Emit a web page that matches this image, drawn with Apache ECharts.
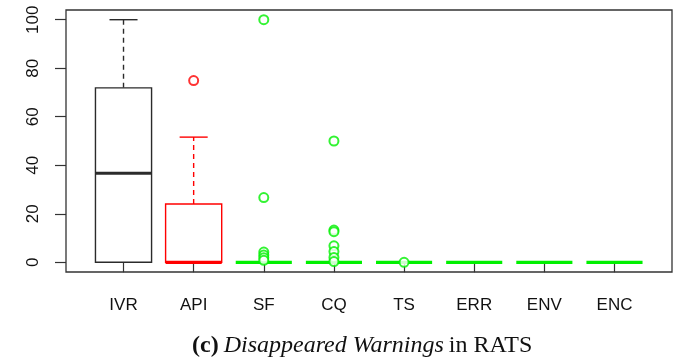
<!DOCTYPE html>
<html>
<head>
<meta charset="utf-8">
<script src="https://cdn.jsdelivr.net/npm/echarts@6/dist/echarts.min.js"></script>
<style>html,body{margin:0;padding:0;background:#fff}#c{width:675px;height:360px}</style>
</head>
<body>
<div id="c"></div>
<script>
// ---- data ----
const categories = ['IVR', 'API', 'SF', 'CQ', 'TS', 'ERR', 'ENV', 'ENC'];
const whiskerLow = [0, 0, 0, 0, 0, 0, 0, 0];
const q1 = [0, 0, 0, 0, 0, 0, 0, 0];
const median = [36.7, 0, 0, 0, 0, 0, 0, 0];
const q3 = [71.9, 24, 0, 0, 0, 0, 0, 0];
const whiskerHigh = [100, 51.6, 0, 0, 0, 0, 0, 0];
const outliersIVR = [];
const outliersAPI = [74.9];
const outliersSF = [100, 26.7, 4.2, 3.0, 1.9, 0.8];
const outliersCQ = [50, 13.3, 12.6, 6.8, 4.4, 2.0, 0.3];
const outliersTS = [0];
const outliersERR = [];
const outliersENV = [];
const outliersENC = [];
const yTicks = [0, 20, 40, 60, 80, 100];

// ---- style ----
const palette = ['#2b2b2b', '#ff0000', '#00f000', '#00f000', '#00f000', '#00f000', '#00f000', '#00f000'];

const outlierLists = [outliersIVR, outliersAPI, outliersSF, outliersCQ, outliersTS, outliersERR, outliersENV, outliersENC];
const boxData = categories.map((c, i) => [i + 1, whiskerLow[i], q1[i], median[i], q3[i], whiskerHigh[i]]);
const outlierData = [];
outlierLists.forEach((list, i) => list.forEach(v => outlierData.push([i + 1, v])));

function renderBox(params, api) {
  const x = api.value(0), lo = api.value(1), a = api.value(2), m = api.value(3), b = api.value(4), hi = api.value(5);
  const col = palette[x - 1];
  const hw = 0.4, cw = 0.2;
  const ch = [];
  const line = (p1, p2, w, dash) => ({
    type: 'line',
    shape: { x1: p1[0], y1: p1[1], x2: p2[0], y2: p2[1] },
    style: { stroke: col, lineWidth: w, lineDash: dash || null }
  });
  if (hi > b) {
    ch.push(line(api.coord([x, b]), api.coord([x, hi]), 1.4, [5, 4]));
    ch.push(line(api.coord([x - cw, hi]), api.coord([x + cw, hi]), 1.4));
  }
  if (lo < a) {
    ch.push(line(api.coord([x, a]), api.coord([x, lo]), 1.4, [5, 4]));
    ch.push(line(api.coord([x - cw, lo]), api.coord([x + cw, lo]), 1.4));
  }
  if (b > a) {
    const tl = api.coord([x - hw, b]), br = api.coord([x + hw, a]);
    ch.push({ type: 'rect', shape: { x: tl[0], y: tl[1], width: br[0] - tl[0], height: br[1] - tl[1] },
      style: { fill: '#fff', stroke: col, lineWidth: 1.4 } });
  }
  ch.push(line(api.coord([x - hw, m]), api.coord([x + hw, m]), 3.2));
  return { type: 'group', children: ch };
}

const chart = echarts.init(document.getElementById('c'), null, { renderer: 'canvas' });
chart.setOption({
  animation: false,
  backgroundColor: '#fff',
  title: {
    left: 187, top: 329,
    text: '{b|(c)} {i|Disappeared Warnings} {n|in RATS}',
    textStyle: {
      fontWeight: 'normal',
      rich: {
        b: { fontFamily: 'Liberation Serif', fontSize: 24, fontWeight: 'bold', color: '#111' },
        i: { fontFamily: 'Liberation Serif', fontSize: 24, fontStyle: 'italic', fontWeight: 'normal', color: '#111' },
        n: { fontFamily: 'Liberation Serif', fontSize: 24, fontWeight: 'normal', color: '#111' }
      }
    }
  },
  grid: { left: 66, right: 3, top: 10, bottom: 88, show: true, borderColor: '#333', borderWidth: 1.3, backgroundColor: 'transparent' },
  xAxis: {
    type: 'value', min: 0.18, max: 8.82,
    axisLine: { show: false },
    splitLine: { show: false },
    axisTick: { show: true, customValues: categories.map((c, i) => i + 1), length: 10, lineStyle: { color: '#333', width: 1.2 } },
    axisLabel: { customValues: categories.map((c, i) => i + 1), formatter: v => categories[Math.round(v) - 1] || '',
      margin: 25, fontFamily: 'Liberation Sans', fontSize: 17, color: '#111' }
  },
  yAxis: {
    type: 'value', min: -4, max: 104,
    axisLine: { show: false },
    splitLine: { show: false },
    axisTick: { show: true, customValues: yTicks, length: 11, lineStyle: { color: '#333', width: 1.2 } },
    axisLabel: { customValues: yTicks, rotate: 90, margin: 24, fontFamily: 'Liberation Sans', fontSize: 17, color: '#111' }
  },
  series: [
    { type: 'custom', renderItem: renderBox, data: boxData, encode: { x: 0, y: [1, 2, 3, 4, 5] }, z: 2 },
    { type: 'scatter', data: outlierData, symbol: 'emptyCircle', symbolSize: 9, z: 3,
      itemStyle: { color: p => palette[p.value[0] - 1], borderWidth: 1.3 } }
  ]
});
</script>
</body>
</html>
